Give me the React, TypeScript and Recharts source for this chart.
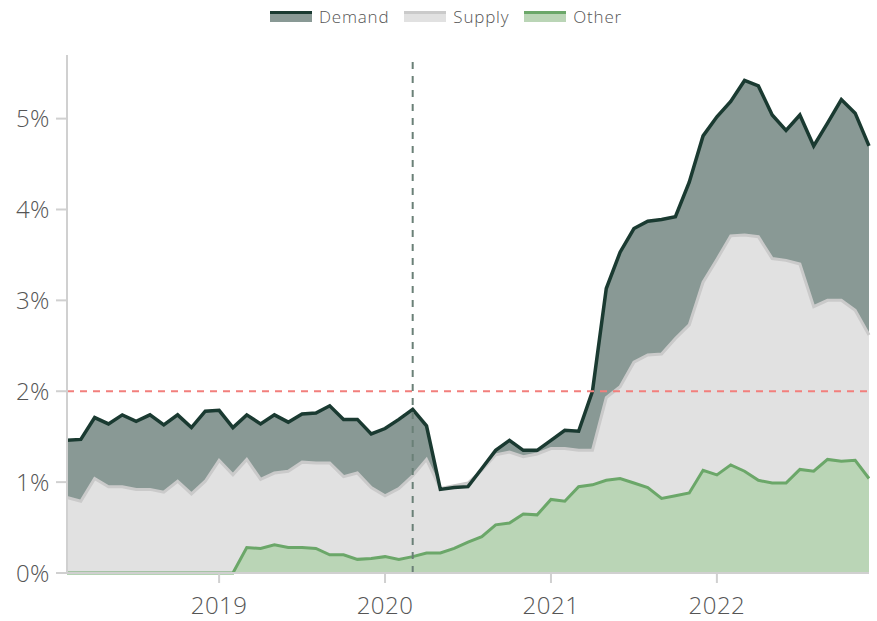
import React from "react";
import { AreaChart, Area, XAxis, YAxis, ReferenceLine } from "recharts";

const months = [
  "2018-02","2018-03","2018-04","2018-05","2018-06","2018-07","2018-08","2018-09","2018-10","2018-11","2018-12",
  "2019-01","2019-02","2019-03","2019-04","2019-05","2019-06","2019-07","2019-08","2019-09","2019-10","2019-11","2019-12",
  "2020-01","2020-02","2020-03","2020-04","2020-05","2020-06","2020-07","2020-08","2020-09","2020-10","2020-11","2020-12",
  "2021-01","2021-02","2021-03","2021-04","2021-05","2021-06","2021-07","2021-08","2021-09","2021-10","2021-11","2021-12",
  "2022-01","2022-02","2022-03","2022-04","2022-05","2022-06","2022-07","2022-08","2022-09","2022-10","2022-11","2022-12",
];

const demand = [
  1.46, 1.47, 1.71, 1.64, 1.74, 1.67, 1.74, 1.63, 1.74, 1.6, 1.78,
  1.79, 1.6, 1.74, 1.64, 1.74, 1.66, 1.75, 1.76, 1.84, 1.69, 1.69, 1.53,
  1.59, 1.69, 1.8, 1.62, 0.92, 0.94, 0.95, 1.15, 1.35, 1.46, 1.35, 1.35,
  1.46, 1.57, 1.56, 2.0, 3.13, 3.53, 3.79, 3.87, 3.89, 3.92, 4.3, 4.81,
  5.02, 5.19, 5.42, 5.36, 5.04, 4.87, 5.04, 4.7, 4.95, 5.21, 5.06, 4.7,
];

const supply = [
  0.83, 0.79, 1.04, 0.95, 0.95, 0.92, 0.92, 0.89, 1.01, 0.87, 1.01,
  1.24, 1.08, 1.25, 1.03, 1.1, 1.12, 1.22, 1.21, 1.21, 1.06, 1.1, 0.94,
  0.85, 0.93, 1.07, 1.25, 0.93, 0.96, 0.99, 1.13, 1.3, 1.33, 1.28, 1.31,
  1.37, 1.37, 1.35, 1.35, 1.93, 2.05, 2.32, 2.4, 2.41, 2.58, 2.73, 3.2,
  3.45, 3.71, 3.72, 3.7, 3.46, 3.44, 3.4, 2.93, 3.0, 3.0, 2.89, 2.62,
];

const other = [
  0, 0, 0, 0, 0, 0, 0, 0, 0, 0, 0,
  0, 0, 0.28, 0.27, 0.31, 0.28, 0.28, 0.27, 0.2, 0.2, 0.15, 0.16,
  0.18, 0.15, 0.18, 0.22, 0.22, 0.27, 0.34, 0.4, 0.53, 0.55, 0.65, 0.64,
  0.81, 0.79, 0.95, 0.97, 1.02, 1.04, 0.99, 0.94, 0.82, 0.85, 0.88, 1.13,
  1.08, 1.19, 1.12, 1.02, 0.99, 0.99, 1.14, 1.12, 1.25, 1.23, 1.24, 1.04,
];

const xTicks = ["2019-01", "2020-01", "2021-01", "2022-01"];
const yTicks = [0, 1, 2, 3, 4, 5];
const target = 2;
const eventMonth = "2020-03";

const data = months.map((m, i) => ({
  month: m,
  demand: demand[i],
  supply: supply[i],
  other: other[i],
}));

const FONT = "'Open Sans', 'Noto Sans', sans-serif";

const legendItems = [
  { label: "Demand", fill: "#899995", stroke: "#1a3a31" },
  { label: "Supply", fill: "#e1e1e1", stroke: "#cacaca" },
  { label: "Other", fill: "#bad5b6", stroke: "#6ba769" },
];

export default function App() {
  return (
    <div style={{ position: "absolute", left: 0, top: 0, width: 877, height: 621, background: "#fff" }}>
      <div
        style={{
          position: "absolute",
          left: 270,
          top: 4,
          display: "flex",
          alignItems: "center",
          fontFamily: FONT,
          fontWeight: 300,
          fontSize: 17,
          letterSpacing: 0.8,
          color: "#555555",
          height: 24,
        }}
      >
        {legendItems.map((it) => (
          <div key={it.label} style={{ display: "flex", alignItems: "center", marginRight: 15 }}>
            <div
              style={{
                width: 42,
                height: 8,
                background: it.fill,
                borderTop: `3px solid ${it.stroke}`,
                marginRight: 7,
              }}
            />
            <span>{it.label}</span>
          </div>
        ))}
      </div>
      <AreaChart
        width={877}
        height={621}
        data={data}
        margin={{ top: 55, right: 8, bottom: 8, left: 0 }}
      >
        <XAxis
          dataKey="month"
          ticks={xTicks}
          tickFormatter={(v: string) => v.slice(0, 4)}
          interval={0}
          tickSize={10}
          tickMargin={14}
          height={40}
          axisLine={{ stroke: "#d0d0d0", strokeWidth: 2 }}
          tickLine={{ stroke: "#d0d0d0", strokeWidth: 2 }}
          tick={{ fill: "#555", fontSize: 24, fontFamily: FONT, fontWeight: 300, letterSpacing: 0.5 }}
        />
        <YAxis
          domain={[0, 5.7]}
          ticks={yTicks}
          tickFormatter={(v: number) => `${v}%`}
          width={67}
          tickSize={11}
          tickMargin={6}
          axisLine={{ stroke: "#d0d0d0", strokeWidth: 2 }}
          tickLine={{ stroke: "#d0d0d0", strokeWidth: 2 }}
          tick={{ fill: "#555", fontSize: 24, fontFamily: FONT, fontWeight: 300, letterSpacing: 0.5 }}
        />
        <Area
          type="linear"
          dataKey="demand"
          fill="#899995"
          fillOpacity={1}
          stroke="none"
          isAnimationActive={false}
        />
        <Area
          type="linear"
          dataKey="supply"
          fill="#e1e1e1"
          fillOpacity={1}
          stroke="#cacaca"
          strokeWidth={3}
          isAnimationActive={false}
        />
        <Area
          type="linear"
          dataKey="other"
          fill="#bad5b6"
          fillOpacity={1}
          stroke="#6ba769"
          strokeWidth={3}
          isAnimationActive={false}
        />
        <Area
          type="linear"
          dataKey="demand"
          fill="none"
          fillOpacity={0}
          stroke="#1a3a31"
          strokeWidth={3.5}
          isAnimationActive={false}
        />
        <ReferenceLine y={target} stroke="#f27f7c" strokeWidth={2} strokeDasharray="7 6" />
        <ReferenceLine x={eventMonth} stroke="#6a8077" strokeWidth={2} strokeDasharray="7 7" />
      </AreaChart>
    </div>
  );
}
